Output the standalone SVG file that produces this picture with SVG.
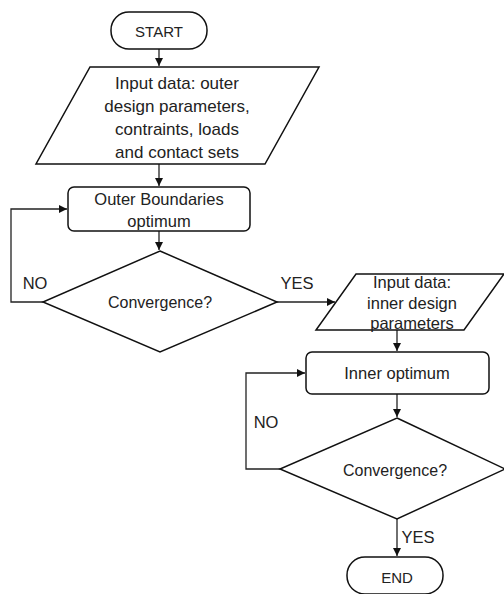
<svg xmlns="http://www.w3.org/2000/svg" width="504" height="594" viewBox="0 0 504 594">
<defs>
<style>
.s{fill:#fff;stroke:#111;stroke-width:1.5}
.c{fill:none;stroke:#222;stroke-width:1.3}
text{font-family:"Liberation Sans",Arial,sans-serif;font-size:16.5px;fill:#222;text-anchor:middle;dominant-baseline:central}
.q{font-size:16px}
.t{font-size:15px}
.p{font-size:17px}
</style>
<marker id="ah" markerUnits="userSpaceOnUse" markerWidth="9" markerHeight="9" refX="8" refY="4" orient="auto">
<path d="M0,0 L8,4 L0,8 z" fill="#111"/>
</marker>
</defs>
<rect width="504" height="594" fill="#fff"/>
<g id="connectors">
<path class="c" d="M159,49 V66" marker-end="url(#ah)"/>
<path class="c" d="M159,164 V186" marker-end="url(#ah)"/>
<path class="c" d="M159,231 V250" marker-end="url(#ah)"/>
<path class="c" d="M43,302 H11 V209 H67" marker-end="url(#ah)"/>
<path class="c" d="M277,302 H335" marker-end="url(#ah)"/>
<path class="c" d="M397,330 V351" marker-end="url(#ah)"/>
<path class="c" d="M397,394 V417" marker-end="url(#ah)"/>
<path class="c" d="M280,469 H246 V373 H305" marker-end="url(#ah)"/>
<path class="c" d="M397,519 V556" marker-end="url(#ah)"/>
<text x="35" y="283">NO</text>
<text x="297" y="283">YES</text>
<text x="266" y="422">NO</text>
<text x="418" y="537">YES</text>
</g>
<g id="start">
<rect class="s" x="111" y="12" width="96" height="37" rx="18"/>
<text x="159" y="31" class="t">START</text>
</g>
<g id="input-outer">
<polygon class="s" points="90,67 319,67 265,164 36,164"/>
<text x="177" y="83" class="p">Input data: outer</text>
<text x="177" y="106" class="p">design parameters,</text>
<text x="177" y="129" class="p">contraints, loads</text>
<text x="177" y="152" class="p">and contact sets</text>
</g>
<g id="outer-optimum">
<rect class="s" x="68" y="187" width="182" height="44" rx="6"/>
<text x="159" y="199">Outer Boundaries</text>
<text x="159" y="221">optimum</text>
</g>
<g id="convergence-1">
<polygon class="s" points="160,251 277,302 160,352 43,302"/>
<text x="160" y="302" class="q">Convergence?</text>
</g>
<g id="input-inner">
<polygon class="s" points="356,274 504,274 464,330 316,330"/>
<text x="412" y="282">Input data:</text>
<text x="412" y="303">inner design</text>
<text x="412" y="323">parameters</text>
</g>
<g id="inner-optimum">
<rect class="s" x="306" y="352" width="183" height="42" rx="6"/>
<text x="397" y="373">Inner optimum</text>
</g>
<g id="convergence-2">
<polygon class="s" points="397,418 505,469 397,519 280,469"/>
<text x="395" y="470" class="q">Convergence?</text>
</g>
<g id="end">
<rect class="s" x="347" y="557" width="96" height="37" rx="18"/>
<text x="397" y="577" class="t">END</text>
</g>
</svg>
